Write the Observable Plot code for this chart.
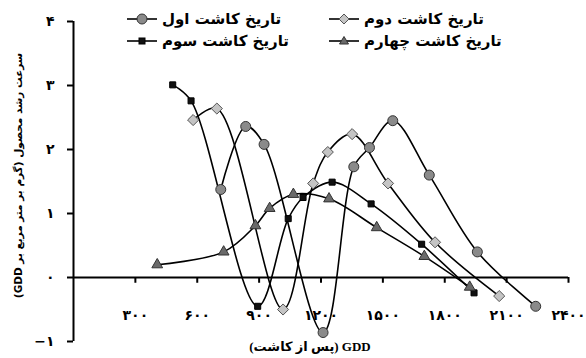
<!DOCTYPE html>
<html>
<head>
<meta charset="utf-8">
<script src="https://cdn.jsdelivr.net/npm/d3@7"></script>
<script src="https://cdn.jsdelivr.net/npm/@observablehq/plot@0.6"></script>
<style>
  html, body { margin: 0; padding: 0; background: #fff; }
  #wrap { position: relative; width: 586px; height: 358px; overflow: hidden; background: #fff; }
  #wrap svg.plot { position: absolute; left: 0; top: 0; }
  .leg { position: absolute; display: flex; align-items: center; height: 18px; font-family: "DejaVu Sans", sans-serif; font-weight: bold; font-size: 15px; color: #000; white-space: nowrap; }
  .leg svg { margin-right: 5px; }
</style>
</head>
<body>
<div id="wrap"></div>
<script>
// ---- data ----
const seriesNames = ["تاریخ کاشت اول", "تاریخ کاشت دوم", "تاریخ کاشت سوم", "تاریخ کاشت چهارم"];
const gdd1 = [714, 835, 924, 1210, 1359, 1435, 1548, 1725, 1958, 2241];
const rate1 = [1.375, 2.36, 2.08, -0.86, 1.73, 2.03, 2.45, 1.60, 0.40, -0.45];
const gdd2 = [580, 695, 1016, 1162, 1233, 1351, 1525, 1753, 2064];
const rate2 = [2.46, 2.64, -0.50, 1.47, 1.96, 2.24, 1.47, 0.55, -0.29];
const gdd3 = [481, 570, 893, 1041, 1113, 1254, 1443, 1688, 1942];
const rate3 = [3.01, 2.76, -0.45, 0.92, 1.25, 1.49, 1.15, 0.52, -0.24];
const gdd4 = [406, 728, 882, 951, 1066, 1239, 1470, 1701, 1921];
const rate4 = [0.20, 0.40, 0.81, 1.08, 1.30, 1.23, 0.78, 0.33, -0.15];
const xTicks = [300, 600, 900, 1200, 1500, 1800, 2100, 2400];
const yTicks = [-1, 0, 1, 2, 3, 4];
const xLabel = "GDD (پس از کاشت)";
const yLabel = "سرعت رشد محصول (گرم بر متر مربع بر GDD)";

// ---- styles per series ----
const symbols = ["circle", "diamond2", "square", "triangle"];
const fills = ["#8a8a8a", "#c4c4c4", "#111111", "#6a6a6a"];
const strokes = ["#333", "#555", "#000", "#333"];
const radii = [5, 5, 3.4, 4];

const gdds = [gdd1, gdd2, gdd3, gdd4];
const rates = [rate1, rate2, rate3, rate4];
const rows = gdds.flatMap((g, s) => g.map((x, i) => ({s, x, y: rates[s][i]})));

const fa = n => String(n).replace(/\d/g, d => "۰۱۲۳۴۵۶۷۸۹"[d]).replace("-", "−");

const marks = [
  Plot.ruleX([0], {stroke: "#000", strokeWidth: 2}),
  Plot.ruleY([0], {stroke: "#000", strokeWidth: 2}),
  Plot.ruleX(xTicks, {x: d => d, y1: 0, y2: -0.09, stroke: "#000", strokeWidth: 2}),
  Plot.axisY({ticks: yTicks, tickSize: 6, tickPadding: 13, tickFormat: fa, fontSize: 14, fontWeight: "bold", fontFamily: "DejaVu Sans", strokeWidth: 2, label: null}),
  Plot.axisX({ticks: xTicks, tickSize: 0, tickPadding: 0, dy: -31, tickFormat: fa, fontSize: 14, fontWeight: "bold", fontFamily: "DejaVu Sans", label: null}),
  Plot.text([yLabel], {className: "rtl-label", frameAnchor: "left", textAnchor: "middle", dx: -55, dy: -6, rotate: -90, fontSize: 10.5, fontWeight: "bold", fontFamily: "DejaVu Sans", text: d => d}),
  Plot.text([xLabel], {className: "rtl-label", frameAnchor: "bottom", textAnchor: "middle", dx: -11, dy: 9, fontSize: 13, fontWeight: "bold", fontFamily: "Liberation Serif, DejaVu Sans", text: d => d}),
];
for (let s = 0; s < 4; s++) {
  const data = rows.filter(r => r.s === s);
  marks.push(Plot.line(data, {x: "x", y: "y", curve: "catmull-rom", stroke: "#000", strokeWidth: 1.6}));
}
for (let s = 0; s < 4; s++) {
  const data = rows.filter(r => r.s === s);
  marks.push(Plot.dot(data, {x: "x", y: "y", symbol: symbols[s], r: radii[s], fill: fills[s], stroke: strokes[s], strokeWidth: 1}));
}

const chart = Plot.plot({
  width: 586, height: 358,
  marginLeft: 73, marginRight: 18, marginTop: 21, marginBottom: 17,
  x: {domain: [0, 2400], axis: null},
  y: {domain: [-1, 4], axis: null},
  style: {background: "#fff", color: "#000", overflow: "visible"},
  marks
});
chart.classList.add("plot");
d3.select(chart).selectAll(".rtl-label text").attr("direction", "rtl").attr("unicode-bidi", "embed");
const wrap = document.getElementById("wrap");
wrap.appendChild(chart);

// ---- legend (HTML overlay) ----
const legPos = [[127, 10], [329, 10], [127, 32], [329, 32]];
const symPath = {
  circle: () => `<circle cx="15" cy="9" r="5" fill="${fills[0]}" stroke="${strokes[0]}"/>`,
  diamond2: () => `<path d="M15,4 L20,9 L15,14 L10,9 Z" fill="${fills[1]}" stroke="${strokes[1]}"/>`,
  square: () => `<rect x="12" y="6" width="6" height="6" fill="${fills[2]}" stroke="${strokes[2]}"/>`,
  triangle: () => `<path d="M15,4.5 L19.5,12 L10.5,12 Z" fill="${fills[3]}" stroke="${strokes[3]}"/>`
};
seriesNames.forEach((name, s) => {
  const d = document.createElement("div");
  d.className = "leg";
  d.style.left = legPos[s][0] + "px";
  d.style.top = legPos[s][1] + "px";
  d.innerHTML = `<svg width="30" height="18"><line x1="0" y1="9" x2="30" y2="9" stroke="#000" stroke-width="1.6"/>${symPath[symbols[s]]()}</svg><span dir="rtl">${name}</span>`;
  wrap.appendChild(d);
});
</script>
</body>
</html>
